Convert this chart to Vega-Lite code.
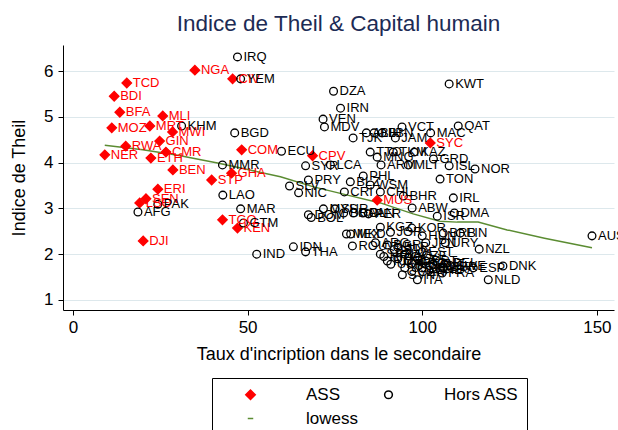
{
  "$schema": "https://vega.github.io/schema/vega-lite/v6.json",
  "width": 551,
  "height": 265,
  "autosize": "none",
  "padding": {"left": 63, "top": 45, "right": 4, "bottom": 120},
  "background": "white",
  "title": {"text": "Indice de Theil & Capital humain", "fontSize": 22.5, "font": "Liberation Sans", "fontWeight": "normal", "color": "#1C2B55", "anchor": "middle", "offset": 10},
  "config": {
    "view": {"stroke": null},
    "font": "Liberation Sans",
    "axis": {"labelFontSize": 17, "titleFontSize": 18, "labelColor": "black", "titleColor": "black", "tickColor": "black", "domainColor": "black", "tickSize": 5, "titleFontWeight": "normal", "labelFont": "Liberation Sans", "titleFont": "Liberation Sans"},
    "legend": {"labelFont": "Liberation Sans", "orient": "none", "legendX": 149, "legendY": 333, "direction": "horizontal", "columns": 2, "strokeColor": "black", "fillColor": "white", "padding": 8, "columnPadding": -15, "rowPadding": 6, "labelFontSize": 17, "labelColor": "black", "symbolStrokeWidth": 1.5, "symbolOffset": 22, "labelOffset": 47}
  },
  "datasets": {
    "line": [
      {"x": 9.1, "y": 4.38, "g": "lowess"},
      {"x": 20, "y": 4.28, "g": "lowess"},
      {"x": 30, "y": 4.16, "g": "lowess"},
      {"x": 41.4, "y": 3.99, "g": "lowess"},
      {"x": 50, "y": 3.85, "g": "lowess"},
      {"x": 59.4, "y": 3.69, "g": "lowess"},
      {"x": 68.9, "y": 3.47, "g": "lowess"},
      {"x": 78.6, "y": 3.29, "g": "lowess"},
      {"x": 88, "y": 3.12, "g": "lowess"},
      {"x": 97.4, "y": 2.88, "g": "lowess"},
      {"x": 105, "y": 2.72, "g": "lowess"},
      {"x": 110, "y": 2.70, "g": "lowess"},
      {"x": 116, "y": 2.70, "g": "lowess"},
      {"x": 124.3, "y": 2.53, "g": "lowess"},
      {"x": 135, "y": 2.35, "g": "lowess"},
      {"x": 148.6, "y": 2.14, "g": "lowess"}
    ],
    "pts": [
      {"c": "NGA", "g": "ASS", "x": 34.9, "y": 6.02},
      {"c": "CIV", "g": "ASS", "x": 45.7, "y": 5.83},
      {"c": "TCD", "g": "ASS", "x": 15.4, "y": 5.74},
      {"c": "BDI", "g": "ASS", "x": 11.8, "y": 5.45},
      {"c": "BFA", "g": "ASS", "x": 13.4, "y": 5.10},
      {"c": "MLI", "g": "ASS", "x": 25.7, "y": 5.02},
      {"c": "MRT", "g": "ASS", "x": 22.0, "y": 4.80},
      {"c": "MOZ", "g": "ASS", "x": 11.1, "y": 4.76},
      {"c": "MWI", "g": "ASS", "x": 28.5, "y": 4.67},
      {"c": "GIN", "g": "ASS", "x": 24.8, "y": 4.47},
      {"c": "SYC", "g": "ASS", "x": 102.3, "y": 4.43},
      {"c": "RWA", "g": "ASS", "x": 15.1, "y": 4.36},
      {"c": "COM", "g": "ASS", "x": 48.3, "y": 4.28},
      {"c": "CMR", "g": "ASS", "x": 26.6, "y": 4.23},
      {"c": "NER", "g": "ASS", "x": 9.1, "y": 4.17},
      {"c": "CPV", "g": "ASS", "x": 68.6, "y": 4.15},
      {"c": "ETH", "g": "ASS", "x": 22.3, "y": 4.10},
      {"c": "BEN", "g": "ASS", "x": 28.6, "y": 3.84},
      {"c": "GHA", "g": "ASS", "x": 45.4, "y": 3.77},
      {"c": "STP", "g": "ASS", "x": 39.7, "y": 3.62},
      {"c": "ERI", "g": "ASS", "x": 24.3, "y": 3.42},
      {"c": "SEN", "g": "ASS", "x": 20.9, "y": 3.21},
      {"c": "LSO", "g": "ASS", "x": 19.1, "y": 3.12},
      {"c": "MUS", "g": "ASS", "x": 87.1, "y": 3.18},
      {"c": "TGO", "g": "ASS", "x": 42.8, "y": 2.75},
      {"c": "KEN", "g": "ASS", "x": 47.1, "y": 2.57},
      {"c": "DJI", "g": "ASS", "x": 20.1, "y": 2.29},
      {"c": "IRQ", "g": "Hors ASS", "x": 47.1, "y": 6.31},
      {"c": "YEM", "g": "Hors ASS", "x": 48.0, "y": 5.83},
      {"c": "KWT", "g": "Hors ASS", "x": 107.7, "y": 5.72},
      {"c": "DZA", "g": "Hors ASS", "x": 74.6, "y": 5.56},
      {"c": "IRN", "g": "Hors ASS", "x": 76.6, "y": 5.19},
      {"c": "VEN", "g": "Hors ASS", "x": 71.6, "y": 4.95},
      {"c": "MDV", "g": "Hors ASS", "x": 72.0, "y": 4.78},
      {"c": "KHM", "g": "Hors ASS", "x": 31.1, "y": 4.80},
      {"c": "QAT", "g": "Hors ASS", "x": 110.3, "y": 4.80},
      {"c": "VCT", "g": "Hors ASS", "x": 94.2, "y": 4.78},
      {"c": "BGD", "g": "Hors ASS", "x": 46.3, "y": 4.65},
      {"c": "MAC", "g": "Hors ASS", "x": 102.4, "y": 4.65},
      {"c": "JAM", "g": "Hors ASS", "x": 92.3, "y": 4.54},
      {"c": "TJK", "g": "Hors ASS", "x": 80.2, "y": 4.54},
      {"c": "ALB", "g": "Hors ASS", "x": 84.0, "y": 4.65},
      {"c": "BIH", "g": "Hors ASS", "x": 86.2, "y": 4.65},
      {"c": "LBN", "g": "Hors ASS", "x": 88.5, "y": 4.65},
      {"c": "ECU", "g": "Hors ASS", "x": 59.7, "y": 4.25},
      {"c": "TTO", "g": "Hors ASS", "x": 85.1, "y": 4.23},
      {"c": "TKM", "g": "Hors ASS", "x": 91.7, "y": 4.23},
      {"c": "KAZ", "g": "Hors ASS", "x": 97.7, "y": 4.23},
      {"c": "MNG", "g": "Hors ASS", "x": 87.1, "y": 4.12},
      {"c": "GRD", "g": "Hors ASS", "x": 103.2, "y": 4.08},
      {"c": "MMR", "g": "Hors ASS", "x": 42.8, "y": 3.95},
      {"c": "SYR", "g": "Hors ASS", "x": 66.6, "y": 3.93},
      {"c": "LCA", "g": "Hors ASS", "x": 73.7, "y": 3.95},
      {"c": "ARM", "g": "Hors ASS", "x": 88.2, "y": 3.95},
      {"c": "MLT", "g": "Hors ASS", "x": 96.0, "y": 3.95},
      {"c": "ISL", "g": "Hors ASS", "x": 107.7, "y": 3.93},
      {"c": "NOR", "g": "Hors ASS", "x": 115.1, "y": 3.86},
      {"c": "PHL", "g": "Hors ASS", "x": 83.1, "y": 3.71},
      {"c": "TON", "g": "Hors ASS", "x": 105.1, "y": 3.64},
      {"c": "PRY", "g": "Hors ASS", "x": 67.4, "y": 3.62},
      {"c": "BLZ", "g": "Hors ASS", "x": 79.4, "y": 3.58},
      {"c": "SLV", "g": "Hors ASS", "x": 62.0, "y": 3.49},
      {"c": "WSM", "g": "Hors ASS", "x": 85.1, "y": 3.51},
      {"c": "CRI", "g": "Hors ASS", "x": 77.7, "y": 3.36},
      {"c": "CHL", "g": "Hors ASS", "x": 88.0, "y": 3.36},
      {"c": "NIC", "g": "Hors ASS", "x": 64.6, "y": 3.34},
      {"c": "LAO", "g": "Hors ASS", "x": 42.9, "y": 3.29},
      {"c": "BHR", "g": "Hors ASS", "x": 94.6, "y": 3.27},
      {"c": "IRL", "g": "Hors ASS", "x": 108.9, "y": 3.23},
      {"c": "PAK", "g": "Hors ASS", "x": 24.3, "y": 3.09},
      {"c": "ABW", "g": "Hors ASS", "x": 97.1, "y": 3.01},
      {"c": "MAR", "g": "Hors ASS", "x": 48.0, "y": 2.99},
      {"c": "MYS", "g": "Hors ASS", "x": 71.7, "y": 2.99},
      {"c": "SUR", "g": "Hors ASS", "x": 75.0, "y": 2.99},
      {"c": "AFG", "g": "Hors ASS", "x": 18.6, "y": 2.92},
      {"c": "DMA", "g": "Hors ASS", "x": 109.2, "y": 2.90},
      {"c": "BRA", "g": "Hors ASS", "x": 77.5, "y": 2.90},
      {"c": "COL", "g": "Hors ASS", "x": 80.3, "y": 2.90},
      {"c": "PAN", "g": "Hors ASS", "x": 83.0, "y": 2.90},
      {"c": "PER", "g": "Hors ASS", "x": 84.6, "y": 2.88},
      {"c": "DOM", "g": "Hors ASS", "x": 67.4, "y": 2.86},
      {"c": "BOL", "g": "Hors ASS", "x": 68.2, "y": 2.80},
      {"c": "ISR", "g": "Hors ASS", "x": 104.3, "y": 2.83},
      {"c": "GTM", "g": "Hors ASS", "x": 48.8, "y": 2.68},
      {"c": "KGZ", "g": "Hors ASS", "x": 88.0, "y": 2.59},
      {"c": "KOR", "g": "Hors ASS", "x": 97.0, "y": 2.57},
      {"c": "MEX", "g": "Hors ASS", "x": 78.3, "y": 2.44},
      {"c": "MKD", "g": "Hors ASS", "x": 79.5, "y": 2.44},
      {"c": "JOR", "g": "Hors ASS", "x": 90.9, "y": 2.48},
      {"c": "BRB", "g": "Hors ASS", "x": 106.0, "y": 2.46},
      {"c": "FIN", "g": "Hors ASS", "x": 110.9, "y": 2.46},
      {"c": "HUN", "g": "Hors ASS", "x": 100.0, "y": 2.40},
      {"c": "AUS", "g": "Hors ASS", "x": 148.6, "y": 2.40},
      {"c": "JPN", "g": "Hors ASS", "x": 101.0, "y": 2.25},
      {"c": "URY", "g": "Hors ASS", "x": 106.6, "y": 2.25},
      {"c": "ARG", "g": "Hors ASS", "x": 86.6, "y": 2.25},
      {"c": "ROU", "g": "Hors ASS", "x": 80.0, "y": 2.18},
      {"c": "BGR", "g": "Hors ASS", "x": 90.0, "y": 2.20},
      {"c": "IDN", "g": "Hors ASS", "x": 63.1, "y": 2.16},
      {"c": "NZL", "g": "Hors ASS", "x": 116.3, "y": 2.11},
      {"c": "THA", "g": "Hors ASS", "x": 66.6, "y": 2.05},
      {"c": "IND", "g": "Hors ASS", "x": 52.6, "y": 2.00},
      {"c": "EST", "g": "Hors ASS", "x": 100.0, "y": 2.05},
      {"c": "BLR", "g": "Hors ASS", "x": 93.0, "y": 2.15},
      {"c": "LTU", "g": "Hors ASS", "x": 92.0, "y": 2.10},
      {"c": "LVA", "g": "Hors ASS", "x": 95.0, "y": 2.00},
      {"c": "SRB", "g": "Hors ASS", "x": 88.0, "y": 2.00},
      {"c": "HRV", "g": "Hors ASS", "x": 89.0, "y": 1.95},
      {"c": "CZE", "g": "Hors ASS", "x": 98.0, "y": 1.95},
      {"c": "POL", "g": "Hors ASS", "x": 93.0, "y": 1.90},
      {"c": "RUS", "g": "Hors ASS", "x": 90.0, "y": 1.85},
      {"c": "SVK", "g": "Hors ASS", "x": 96.0, "y": 1.85},
      {"c": "PRT", "g": "Hors ASS", "x": 101.0, "y": 1.85},
      {"c": "GRC", "g": "Hors ASS", "x": 97.0, "y": 1.80},
      {"c": "BEL", "g": "Hors ASS", "x": 107.0, "y": 1.80},
      {"c": "UKR", "g": "Hors ASS", "x": 91.0, "y": 1.78},
      {"c": "AUT", "g": "Hors ASS", "x": 103.0, "y": 1.78},
      {"c": "CYP", "g": "Hors ASS", "x": 99.0, "y": 1.75},
      {"c": "SWE", "g": "Hors ASS", "x": 108.0, "y": 1.75},
      {"c": "DNK", "g": "Hors ASS", "x": 123.1, "y": 1.74},
      {"c": "GBR", "g": "Hors ASS", "x": 106.0, "y": 1.72},
      {"c": "DEU", "g": "Hors ASS", "x": 100.0, "y": 1.70},
      {"c": "USA", "g": "Hors ASS", "x": 95.0, "y": 1.70},
      {"c": "ESP", "g": "Hors ASS", "x": 114.6, "y": 1.70},
      {"c": "LUX", "g": "Hors ASS", "x": 104.0, "y": 1.68},
      {"c": "CHE", "g": "Hors ASS", "x": 102.0, "y": 1.65},
      {"c": "CAN", "g": "Hors ASS", "x": 97.0, "y": 1.62},
      {"c": "FRA", "g": "Hors ASS", "x": 105.7, "y": 1.59},
      {"c": "SVN", "g": "Hors ASS", "x": 94.3, "y": 1.55},
      {"c": "ITA", "g": "Hors ASS", "x": 98.6, "y": 1.44},
      {"c": "NLD", "g": "Hors ASS", "x": 118.9, "y": 1.44}
    ]
  },
  "layer": [
    {
      "data": {"name": "line"},
      "mark": {"type": "line", "strokeWidth": 1.5},
      "encoding": {
        "x": {"field": "x", "type": "quantitative"},
        "y": {"field": "y", "type": "quantitative"},
        "stroke": {"field": "g", "type": "nominal", "scale": {"domain": ["ASS", "Hors ASS", "lowess"], "range": ["#FF0000", "#000000", "#5B8C32"]}, "legend": {"title": null}}
      }
    },
    {
      "data": {"name": "pts"},
      "mark": {"type": "point", "opacity": 1, "strokeWidth": 1.3},
      "encoding": {
        "x": {"field": "x", "type": "quantitative", "scale": {"domain": [-2.86, 154.9], "nice": false, "zero": false}, "axis": {"values": [0, 50, 100, 150], "grid": false, "title": "Taux d'incription dans le secondaire", "labelPadding": 4, "titlePadding": 10}},
        "y": {"field": "y", "type": "quantitative", "scale": {"domain": [0.78, 6.57], "nice": false, "zero": false}, "axis": {"values": [1, 2, 3, 4, 5, 6], "grid": true, "gridColor": "#DDE8EC", "title": "Indice de Theil", "labelPadding": 5, "titlePadding": 15}},
        "shape": {"field": "g", "type": "nominal", "scale": {"domain": ["ASS", "Hors ASS", "lowess"], "range": ["diamond", "circle", "stroke"]}, "legend": {"title": null}},
        "fill": {"field": "g", "type": "nominal", "scale": {"domain": ["ASS", "Hors ASS", "lowess"], "range": ["#FF0000", "transparent", "transparent"]}, "legend": {"title": null}},
        "stroke": {"field": "g", "type": "nominal", "scale": {"domain": ["ASS", "Hors ASS", "lowess"], "range": ["#FF0000", "#000000", "#5B8C32"]}, "legend": {"title": null}},
        "size": {"field": "g", "type": "nominal", "scale": {"domain": ["ASS", "Hors ASS", "lowess"], "range": [90, 30, 3000]}, "legend": null}
      }
    },
    {
      "data": {"name": "pts"},
      "mark": {"type": "text", "align": "left", "baseline": "middle", "dx": 6, "fontSize": 13, "font": "Liberation Sans"},
      "encoding": {
        "x": {"field": "x", "type": "quantitative"},
        "y": {"field": "y", "type": "quantitative"},
        "text": {"field": "c"},
        "color": {"condition": {"test": "datum.g === 'ASS'", "value": "#FF0000"}, "value": "#000000"}
      }
    }
  ],
  "encoding": {}
}
